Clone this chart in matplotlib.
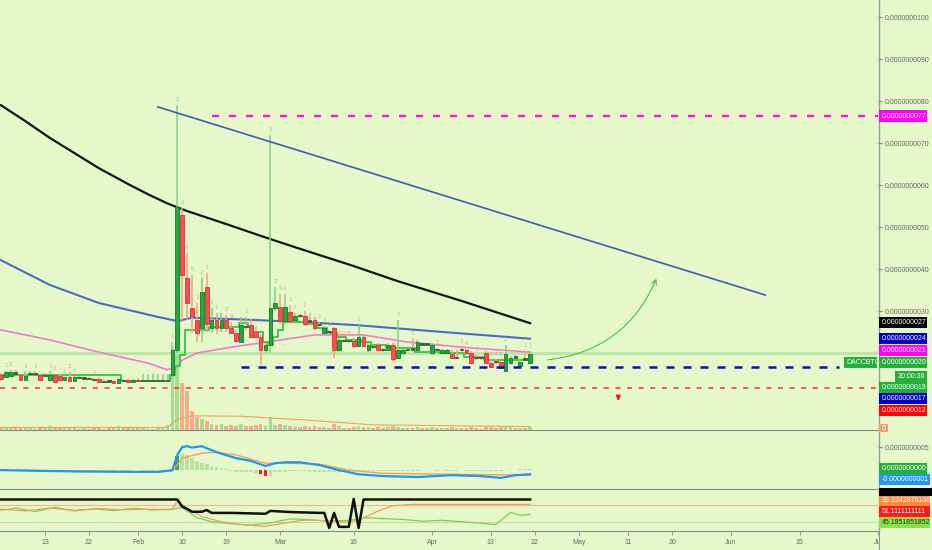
import numpy as np
import pandas as pd
import matplotlib.pyplot as plt
import matplotlib.dates as mdates
from matplotlib.patches import Rectangle
from matplotlib.lines import Line2D

W, H = 932, 550
BG = '#e6f8c9'
plt.rcParams['font.family'] = ['Liberation Sans', 'DejaVu Sans']
FS = 5.0

dates = pd.date_range('2020-01-04', '2020-04-21', freq='D')

# daily candles (open, high, low, close), price in 1e-10 BTC
jan = [(14.8, 15.2, 13.6, 13.8), (14.3, 15.8, 14.0, 15.5), (14.5, 15.9, 14.2, 15.5), (15.2, 15.9, 15.0, 15.1),
       (14.8, 15.0, 13.5, 13.6), (13.6, 15.6, 13.5, 14.5), (14.9, 15.6, 14.8, 15.0), (15.0, 15.6, 14.8, 14.9),
       (14.8, 15.0, 13.4, 13.6), (14.5, 15.2, 14.3, 14.6), (13.6, 15.6, 13.5, 14.8), (14.8, 15.0, 12.8, 13.0),
       (14.5, 15.0, 13.4, 13.6), (13.6, 14.4, 13.4, 14.2), (14.2, 15.5, 13.2, 13.4), (13.4, 14.6, 13.3, 14.4),
       (14.0, 14.6, 13.8, 14.0), (13.9, 14.4, 13.7, 13.9), (13.8, 14.3, 13.6, 13.7), (13.7, 14.0, 13.5, 13.6),
       (13.9, 14.0, 13.0, 13.1), (13.1, 13.8, 13.0, 13.2), (13.3, 13.6, 13.0, 13.2), (13.4, 13.5, 12.8, 12.9),
       (12.9, 13.8, 12.8, 13.7), (13.4, 13.7, 13.2, 13.3), (13.6, 13.8, 12.9, 13.0), (13.0, 13.9, 12.9, 13.6)]
feb = [(13.6, 14.0, 13.2, 13.3), (13.3, 15.0, 13.2, 13.3), (13.3, 15.0, 13.2, 13.3), (13.3, 15.0, 13.2, 13.3),
       (13.3, 15.0, 13.2, 13.3), (13.3, 15.0, 13.2, 13.3), (13.3, 15.0, 13.2, 13.3), (14.8, 22.6, 14.0, 20.7),
       (20.7, 79.0, 20.0, 54.8), (52.9, 54.5, 27.4, 38.6), (37.9, 43.8, 27.9, 31.9), (30.7, 38.6, 24.8, 28.8),
       (27.9, 32.0, 22.6, 24.8), (25.9, 37.9, 22.6, 34.5), (35.7, 39.0, 25.0, 26.9), (25.9, 30.7, 24.8, 27.9),
       (27.9, 29.5, 24.5, 25.9), (25.9, 29.5, 25.0, 27.9), (27.9, 29.0, 25.0, 25.9), (25.9, 27.5, 24.5, 24.8),
       (24.8, 25.5, 22.6, 22.9), (22.6, 28.6, 22.3, 26.7), (26.4, 28.6, 25.5, 26.2), (26.7, 28.0, 23.5, 23.8),
       (25.0, 26.5, 23.5, 23.8), (23.8, 24.5, 17.1, 20.7), (20.7, 22.5, 20.0, 21.9), (21.9, 71.9, 20.0, 30.7),
       (30.7, 35.7, 30.0, 31.9)]
mar = [(31.0, 34.0, 27.0, 27.6), (27.6, 34.0, 27.0, 31.0), (29.8, 31.5, 27.0, 27.6), (27.9, 29.5, 27.5, 28.8),
       (28.8, 29.3, 28.4, 28.7), (28.8, 30.0, 26.5, 26.9), (27.6, 29.5, 27.0, 27.5), (27.9, 28.5, 25.5, 25.9),
       (26.7, 27.4, 26.2, 26.6), (24.8, 26.5, 24.5, 25.9), (25.0, 25.5, 24.6, 24.9), (25.9, 26.3, 18.8, 20.7),
       (20.7, 23.5, 20.3, 23.1), (22.9, 23.4, 22.5, 22.8), (22.9, 23.4, 22.5, 22.8), (22.9, 23.6, 21.2, 21.7),
       (21.7, 26.7, 21.5, 23.8), (23.8, 24.3, 21.4, 21.7), (20.7, 22.4, 20.3, 21.9), (21.5, 22.0, 21.0, 21.4),
       (21.9, 22.3, 20.4, 20.7), (20.7, 21.2, 20.3, 20.6), (20.7, 22.5, 20.4, 21.9), (21.9, 22.3, 18.0, 18.6),
       (18.8, 27.9, 18.5, 20.7), (20.0, 21.0, 19.8, 20.7), (20.7, 21.2, 20.4, 20.6), (20.9, 23.5, 20.6, 20.8),
       (20.7, 23.0, 20.5, 22.6), (22.1, 22.5, 21.6, 22.0), (22.1, 22.5, 21.6, 22.0)]
apr = [(20.0, 22.3, 19.8, 21.9), (20.7, 21.3, 20.3, 20.6), (20.0, 21.0, 19.8, 20.7), (20.0, 21.0, 19.8, 20.7),
       (19.8, 20.6, 18.6, 18.8), (18.8, 20.7, 18.5, 18.7), (20.7, 21.5, 20.3, 20.6), (20.7, 21.0, 19.6, 20.0),
       (20.0, 20.4, 17.3, 17.6), (18.8, 19.5, 18.4, 18.7), (18.8, 19.3, 18.4, 18.7), (20.0, 20.5, 17.3, 17.6),
       (17.6, 18.5, 16.4, 16.7), (17.9, 18.5, 17.5, 17.8), (17.9, 18.3, 16.2, 16.5), (15.7, 22.0, 15.5, 19.8),
       (17.6, 19.2, 17.3, 18.8), (19.0, 19.5, 18.7, 18.9), (17.0, 18.3, 16.8, 17.9), (18.5, 20.5, 18.2, 18.4),
       (17.6, 20.5, 17.4, 19.8)]

volume = [0.6, 0.8, 0.5, 0.4, 0.7, 0.5, 0.4, 0.3, 0.6, 0.4, 0.9, 0.7, 0.5, 0.4, 0.6, 0.5, 0.3, 0.4, 0.3, 0.4,
          0.6, 0.3, 0.4, 0.5, 1.0, 0.4, 0.5, 0.6,
          0.5, 0.4, 0.3, 0.3, 0.4, 0.6, 1.2, 19.0, 20.0, 11.0, 9.0, 4.5, 3.0, 2.5, 2.0, 1.5, 1.2, 1.4,
          1.0, 1.2, 1.0, 1.3, 0.9, 1.0, 1.1, 1.5, 1.0, 3.0, 1.2,
          1.5, 1.2, 1.0, 0.8, 0.7, 1.0, 0.6, 0.9, 0.6, 0.7, 0.5, 1.4, 0.9, 0.5, 0.5, 0.7, 0.9, 0.8, 0.6, 0.5,
          0.6, 0.4, 0.6, 0.9, 0.8, 0.5, 0.4, 0.4, 0.6, 0.4, 0.4,
          0.6, 0.4, 0.5, 0.4, 0.6, 0.4, 0.4, 0.5, 0.7, 0.4, 0.3, 0.6, 0.6, 0.4, 0.6, 1.0, 0.6, 0.4, 0.5, 0.5, 0.7]
vol_ma_dates = ['2020-01-04', '2020-02-07', '2020-02-09', '2020-02-12', '2020-02-22', '2020-03-05',
                '2020-03-20', '2020-04-21']
vol_ma = [0.6, 0.6, 2.5, 3.3, 3.2, 2.4, 1.2, 0.8]

# step line (green)
step_line = ([14.8] * 25 + [13.4] * 3 +
             [13.4] * 7 + [14.8, 17.0, 19.5] + [25.5] * 5 + [26.2] * 6 + [27.1] * 2 + [26.2] + [25.0] * 2 +
             [22.6, 21.9, 23.8] +
             [25.5] + [27.4] * 5 + [26.9] * 2 + [26.0] * 2 + [24.8] * 2 + [23.8] * 2 + [23.1] * 3 + [22.6] * 2 +
             [21.9] * 3 + [21.5] * 2 + [21.2] * 4 + [20.2] * 3 +
             [20.2] * 2 + [20.0] * 5 + [19.0] * 4 + [18.3] * 10)

ma_black_dates = ['2020-01-04', '2020-01-09', '2020-01-14', '2020-01-19', '2020-01-24', '2020-01-30',
                  '2020-02-03', '2020-02-07', '2020-02-11', '2020-02-19', '2020-02-26', '2020-03-04',
                  '2020-03-16', '2020-03-25', '2020-04-07', '2020-04-21']
ma_black = [79.0, 75.2, 71.2, 67.6, 64.0, 60.2, 57.8, 55.6, 53.8, 50.7, 47.9, 45.2, 40.7, 37.1, 32.4, 27.1]
ma_blue_dates = ['2020-01-04', '2020-01-14', '2020-01-24', '2020-02-05', '2020-02-09', '2020-02-12',
                 '2020-02-24', '2020-03-05', '2020-03-17', '2020-04-01', '2020-04-21']
ma_blue = [42.1, 36.2, 31.9, 28.6, 27.6, 28.4, 27.9, 27.4, 26.6, 25.2, 23.4]
ma_pink_dates = ['2020-01-04', '2020-01-14', '2020-01-24', '2020-02-03', '2020-02-07', '2020-02-09',
                 '2020-02-10', '2020-02-13', '2020-02-20', '2020-02-26', '2020-03-01', '2020-03-08',
                 '2020-03-18', '2020-03-27', '2020-04-08', '2020-04-21']
ma_pink = [25.5, 23.1, 20.2, 17.6, 16.0, 16.7, 18.3, 20.0, 21.4, 22.4, 23.1, 24.3, 24.3, 22.6, 21.3, 20.2]

# MACD (1e-10)
macd_dates = ['2020-01-04', '2020-01-20', '2020-02-05', '2020-02-08', '2020-02-09', '2020-02-10', '2020-02-11',
              '2020-02-12', '2020-02-14', '2020-02-17', '2020-02-21', '2020-02-24', '2020-02-27', '2020-02-29',
              '2020-03-02', '2020-03-05', '2020-03-09', '2020-03-13', '2020-03-17', '2020-03-22', '2020-03-29',
              '2020-04-05', '2020-04-11', '2020-04-15', '2020-04-18', '2020-04-21']
macd_line = [0.0, -0.3, -0.4, 0.0, 3.3, 5.0, 5.2, 4.9, 5.2, 3.9, 2.6, 2.0, 0.9, 1.5, 1.7, 1.7, 1.1, 0.0,
             -0.9, -1.3, -1.5, -1.1, -1.3, -1.7, -1.1, -0.9]
signal_dates = ['2020-01-04', '2020-01-20', '2020-02-05', '2020-02-08', '2020-02-10', '2020-02-14', '2020-02-17',
                '2020-02-21', '2020-02-27', '2020-03-02', '2020-03-09', '2020-03-15', '2020-03-22', '2020-04-05',
                '2020-04-21']
signal_line = [0.0, -0.2, -0.4, -0.2, 2.6, 3.7, 3.9, 3.3, 1.5, 1.5, 1.3, 0.0, -0.7, -0.9, -1.1]
macd_hist = [0.1, -0.1, 0.1, 0.1, -0.1, 0.1, 0.1, -0.1, -0.1, 0.1, 0.1, -0.1, -0.1, 0.1, -0.1, 0.1, 0.1, -0.1,
             -0.1, -0.1, -0.1, 0.1, -0.1, -0.1, 0.1, -0.1, -0.1, 0.1,
             0.1, -0.1, -0.1, -0.1, -0.1, -0.1, -0.1, 0.2, 3.0, 3.5, 3.2, 2.6, 2.0, 1.5, 1.4, 1.0, 0.7, 0.4,
             0.2, -0.1, -0.3, -0.4, -0.5, -0.5, -0.6, -0.8, -1.3, -1.3, -0.4,
             -0.3, -0.3, -0.2, -0.2, -0.1, -0.2, -0.3, -0.3, -0.3, -0.3, -0.3, -0.4, -0.4, -0.4, -0.3, -0.3,
             -0.3, -0.3, -0.2, -0.2, -0.2, -0.2, -0.2, -0.2, -0.2, -0.1, -0.1, -0.1, -0.1, 0.1, 0.1,
             0.1, -0.1, 0.1, -0.1, -0.1, -0.1, 0.1, -0.1, -0.1, -0.1, -0.2, -0.2, -0.2, -0.2, -0.2, 0.1,
             0.1, 0.1, 0.2, 0.2, 0.2]
hist_dark = ['2020-02-09']
hist_red = ['2020-02-26', '2020-02-27']

# lower oscillator
osc_black_dates = ['2020-01-04', '2020-02-09', '2020-02-10', '2020-02-11', '2020-02-12', '2020-02-14',
                   '2020-02-15', '2020-02-16', '2020-02-20', '2020-02-27', '2020-02-28', '2020-03-03',
                   '2020-03-09', '2020-03-10', '2020-03-11', '2020-03-12', '2020-03-13', '2020-03-15',
                   '2020-03-16', '2020-03-17', '2020-03-18', '2020-04-21']
osc_black = [100, 100, 75, 67, 57, 57, 63, 53, 53, 50, 60, 56, 53, 53, 0, 53, 4, 4, 102, 0, 100, 100]
osc_orange_dates = ['2020-01-04', '2020-01-09', '2020-01-14', '2020-01-19', '2020-01-24', '2020-01-29',
                    '2020-02-03', '2020-02-08', '2020-02-09', '2020-02-11', '2020-02-14', '2020-02-18',
                    '2020-02-23', '2020-02-27', '2020-03-02', '2020-03-06', '2020-03-11', '2020-03-15',
                    '2020-03-18', '2020-03-21', '2020-03-24', '2020-03-28', '2020-04-21']
osc_orange = [66, 60, 70, 62, 68, 64, 66, 64, 95, 70, 40, 22, 10, 6, 18, 28, 25, 20, 35, 60, 78, 83, 83]
osc_green_dates = ['2020-01-04', '2020-01-07', '2020-01-11', '2020-01-15', '2020-01-19', '2020-01-23',
                   '2020-01-27', '2020-01-31', '2020-02-04', '2020-02-08', '2020-02-10', '2020-02-13',
                   '2020-02-16', '2020-02-20', '2020-02-24', '2020-02-28', '2020-03-03', '2020-03-07',
                   '2020-03-11', '2020-03-15', '2020-03-19', '2020-03-22', '2020-03-26', '2020-03-30',
                   '2020-04-03', '2020-04-07', '2020-04-11', '2020-04-14', '2020-04-17', '2020-04-19',
                   '2020-04-21']
osc_green = [62, 70, 58, 72, 60, 67, 61, 69, 63, 66, 72, 36, 22, 15, 10, 18, 32, 29, 24, 27, 36, 33, 30, 24,
             27, 22, 17, 12, 55, 44, 48]

# drawn levels / trend line
last_price = 20.0
target_level = 76.4
support_level = 16.7
stop_level = 11.7
trend_dates = ['2020-02-05', '2020-06-08']
trend_values = [78.6, 33.8]

# sequential counts above candles
td_labels = [('2020-01-05', '1', 'g'), ('2020-01-06', '2', 'g'), ('2020-01-09', '1', 's'), ('2020-01-11', '1', 'g'),
             ('2020-01-14', '1', 's'), ('2020-01-15', '2', 's'), ('2020-01-17', '1', 's'), ('2020-01-18', '2', 's'),
             ('2020-01-19', '1', 'g'), ('2020-01-23', '1', 's'), ('2020-02-08', '1', 'g'), ('2020-02-09', '2', 'g'),
             ('2020-02-10', '3', 'g'), ('2020-02-11', '4', 'g'), ('2020-02-12', '5', 'g'), ('2020-02-13', '1', 's'),
             ('2020-02-14', '2', 's'), ('2020-02-15', '3', 's'), ('2020-02-16', '1', 'g'), ('2020-02-17', '1', 'g'),
             ('2020-02-19', '2', 's'), ('2020-02-20', '3', 's'), ('2020-02-23', '1', 'g'), ('2020-02-25', '1', 's'),
             ('2020-02-28', '1', 'g'), ('2020-02-29', '2', 'g'), ('2020-03-01', '3', 'g'), ('2020-03-02', '4', 'g'),
             ('2020-03-03', '1', 's'), ('2020-03-04', '2', 's'), ('2020-03-06', '1', 's'), ('2020-03-09', '1', 's'),
             ('2020-03-10', '2', 's'), ('2020-03-11', '3', 's'), ('2020-03-13', '5', 's'), ('2020-03-14', '7', 's'),
             ('2020-03-15', '8', 's'), ('2020-03-17', '1', 'g'), ('2020-03-25', '1', 'g'), ('2020-03-28', '1', 's'),
             ('2020-04-02', '1', 's'), ('2020-04-07', '3', 's'), ('2020-04-08', '4', 's'), ('2020-04-10', '1', 's'),
             ('2020-04-13', '3', 's'), ('2020-04-14', '4', 's'), ('2020-04-15', '5', 's'), ('2020-04-16', '1', 'g'),
             ('2020-04-20', '1', 's'), ('2020-04-21', '1', 'g')]

tick_dates = ['2020-01-13', '2020-01-22', '2020-02-01', '2020-02-10', '2020-02-19', '2020-03-01', '2020-03-16',
              '2020-04-01', '2020-04-13', '2020-04-22', '2020-05-01', '2020-05-11', '2020-05-20', '2020-06-01',
              '2020-06-15', '2020-07-01']
tick_labels = ['13', '22', 'Feb', '10', '19', 'Mar', '16', 'Apr', '13', '22', 'May', '11', '20', 'Jun', '15', 'Jul']


def dn(d):
    return mdates.date2num(pd.to_datetime(d))


def fx(px):
    return px / W


def fy(py):
    return 1 - py / H


ohlc = np.array(jan + feb + mar + apr)
opens, highs, lows, closes = ohlc.T
xs = mdates.date2num(dates)

fig = plt.figure(figsize=(W / 100, H / 100), dpi=100)
fig.patch.set_facecolor(BG)

ax = fig.add_axes([0, fy(430), fx(878), 430 / H])
axv = fig.add_axes([0, fy(430), fx(878), 430 / H], sharex=ax)
axm = fig.add_axes([0, fy(489), fx(878), 58 / H], sharex=ax)
axr = fig.add_axes([0, fy(531), fx(878), 41 / H], sharex=ax)
for a in (ax, axv, axm, axr):
    a.set_facecolor('none')
    for s in ('top', 'left', 'right'):
        a.spines[s].set_visible(False)
    a.spines['bottom'].set_color('#8a8a8a')
ax.set_zorder(2)
axv.set_zorder(1)
axv.axis('off')

t0 = dn('2020-01-13')
ax.set_xlim(t0 - 45 / 4.9, t0 + 833 / 4.9)
ax.set_ylim(100 - 413 / 4.2, 100 + 17 / 4.2)

# volume
up = closes >= opens
axv.set_ylim(0, 100)
axv.bar(xs, volume, width=0.75, color=np.where(up, '#a9dc92', '#f5ae88'), zorder=1)
axv.plot([dn(d) for d in vol_ma_dates], vol_ma, color='#f3a060', lw=0.8)

# lines under candles
ax.axhline(last_price, color='#bde6a6', lw=2.2, zorder=1)
ax.plot([dn(d) for d in ma_black_dates], ma_black, color='#141414', lw=1.6, zorder=3)
ax.plot([dn(d) for d in ma_blue_dates], ma_blue, color='#4a6cc8', lw=1.5, zorder=3)
ax.plot([dn(d) for d in ma_pink_dates], ma_pink, color='#f07ad8', lw=1.2, zorder=3)
ax.plot(xs, step_line, drawstyle='steps-mid', color='#3fc94a', lw=1.4, zorder=3)

# candles
doji = np.abs(closes - opens) < 0.25
body_col = np.where(doji, '#3d5c3d', np.where(up, '#1faa3e', '#ff4b4b'))
edge_col = np.where(doji, '#3d5c3d', np.where(up, '#127a2a', '#d83434'))
wick_col = np.where(up, '#86cf7c', '#f0a088')
ax.vlines(xs, lows, highs, colors=wick_col, lw=1.1, zorder=4)
bot = np.minimum(opens, closes)
hgt = np.maximum(np.abs(closes - opens), 0.3)
ax.bar(xs, hgt, bottom=bot, width=0.75, color=body_col, edgecolor=edge_col, lw=0.6, zorder=5)

# sequential counts
hi_by_date = dict(zip([d.strftime('%Y-%m-%d') for d in dates], highs))
for d, t, c in td_labels:
    ax.annotate(t, (dn(d), hi_by_date[d]), xytext=(0, 2), textcoords='offset points', ha='center',
                va='bottom', fontsize=4.5, color='#8fcf86' if c == 'g' else '#eea487', zorder=6)

# drawn levels
ax.plot([dn('2020-02-16'), ax.get_xlim()[1]], [target_level] * 2, color='#ff10f0', lw=1.7,
        dashes=(3.0, 4.2), zorder=6)
ax.plot([dn('2020-02-22'), dn('2020-06-23')], [support_level] * 2, color='#0a0ad0', lw=1.8,
        dashes=(3.2, 3.6), zorder=6)
ax.axhline(stop_level, color='#ff2a2a', lw=1.1, dashes=(3.3, 4.3), zorder=6)
ax.plot([dn(d) for d in trend_dates], trend_values, color='#3c5db4', lw=1.2, zorder=6)
ax.annotate('', xy=(dn('2020-05-17'), 38.3), xytext=(dn('2020-04-24'), 18.3),
            arrowprops=dict(arrowstyle='->', color='#45c445', lw=0.8, mutation_scale=9,
                            connectionstyle='arc3,rad=0.3'), zorder=6)
ax.annotate('', xy=(dn('2020-05-09'), 8.0), xytext=(dn('2020-05-09'), 10.0),
            arrowprops=dict(arrowstyle='-|>', color='#ff1010', lw=1.2, mutation_scale=6), zorder=6)

# price axis
ax.yaxis.tick_right()
yt = [30, 40, 50, 60, 70, 80, 90, 100]
ax.set_yticks(yt)
ax.set_yticklabels([f'{v * 1e-10:.10f}' for v in yt])
for a in (ax, axm):
    a.tick_params(axis='y', direction='out', length=3, width=0.8, colors='#8a8a8a', labelcolor='#666666',
                  labelsize=FS, pad=2)
for a in (ax, axm):
    a.tick_params(axis='x', bottom=False, labelbottom=False)

# MACD panel
axm.set_ylim(-4.1, 8.5)
hist_col = []
for d in dates.strftime('%Y-%m-%d'):
    hist_col.append('#2aa84a' if d in hist_dark else ('#ff1a1a' if d in hist_red else '#b6e3a2'))
axm.bar(xs, macd_hist, width=0.75, color=hist_col)
axm.plot([dn(d) for d in signal_dates], signal_line, color='#f5a05a', lw=1.0)
axm.plot([dn(d) for d in macd_dates], macd_line, color='#2196f3', lw=1.6)
axm.yaxis.tick_right()
axm.set_yticks([5])
axm.set_yticklabels(['0.0000000005'])

# oscillator panel
axr.set_ylim(-10.5, 133.3)
axr.set_yticks([])
axr.axhline(80, color='#f6b58a', lw=0.8)
axr.axhline(20, color='#bfe0ab', lw=0.8)
axr.plot([dn(d) for d in osc_green_dates], osc_green, color='#7bd14a', lw=0.9)
axr.plot([dn(d) for d in osc_orange_dates], osc_orange, color='#f59a60', lw=0.9)
axr.plot([dn(d) for d in osc_black_dates], osc_black, color='#111111', lw=1.8)
axr.set_xticks([dn(d) for d in tick_dates])
axr.set_xticklabels(tick_labels)
axr.tick_params(axis='x', direction='out', length=3, width=0.8, colors='#999999', labelcolor='#666666',
                labelsize=FS, pad=3)

# right side axis line
fig.add_artist(Line2D([fx(878.5)] * 2, [0, 1], transform=fig.transFigure, color='#9a9a9a', lw=1.0))
fig.add_artist(Rectangle((fx(880), fy(550)), fx(52), 18 / H, transform=fig.transFigure,
                         facecolor=BG, edgecolor='none', zorder=5))


def tag(yc, text, bg, fg='white', x0=879, x1=927, h=11):
    fig.add_artist(Rectangle((fx(x0), fy(yc + h / 2)), fx(x1 - x0), h / H, transform=fig.transFigure,
                             facecolor=bg, edgecolor='none', zorder=10))
    fig.text(fx(x0 + 2.5), fy(yc), text, color=fg, fontsize=FS, va='center', ha='left', zorder=11)


tag(116, '0.0000000077', '#ff00ff')
tag(322.5, '0.0000000027', '#000000')
tag(338.5, '0.0000000024', '#0000c8')
tag(350.5, '0.0000000021', '#ff00ff')
tag(362.5, '0.0000000020', '#22b03a')
tag(376, '20:00:36', '#22b03a', x0=895)
tag(387.5, '0.0000000019', '#22b03a')
tag(398.5, '0.0000000017', '#0000c8')
tag(410, '0.0000000012', '#ff0000')
tag(428, '0', '#f5a070', x0=879, x1=888, h=8)
tag(468, '0.0000000000', '#22b03a')
tag(479.5, '-0.0000000001', '#2196f3', x1=930)
tag(492, '', '#000000', x1=932, h=8)
tag(501, '99.9242876106', '#ff8c40', x1=930)
tag(511.5, '51.1111111111', '#ff1a1a', x1=930)
tag(522.5, '45.1851851852', '#8ee04a', fg='#1a3a1a', x1=930)
tag(362.5, 'DACCBTC', '#22b03a', x0=844, x1=877)

fig.savefig('out.png', dpi=100, facecolor=BG)
